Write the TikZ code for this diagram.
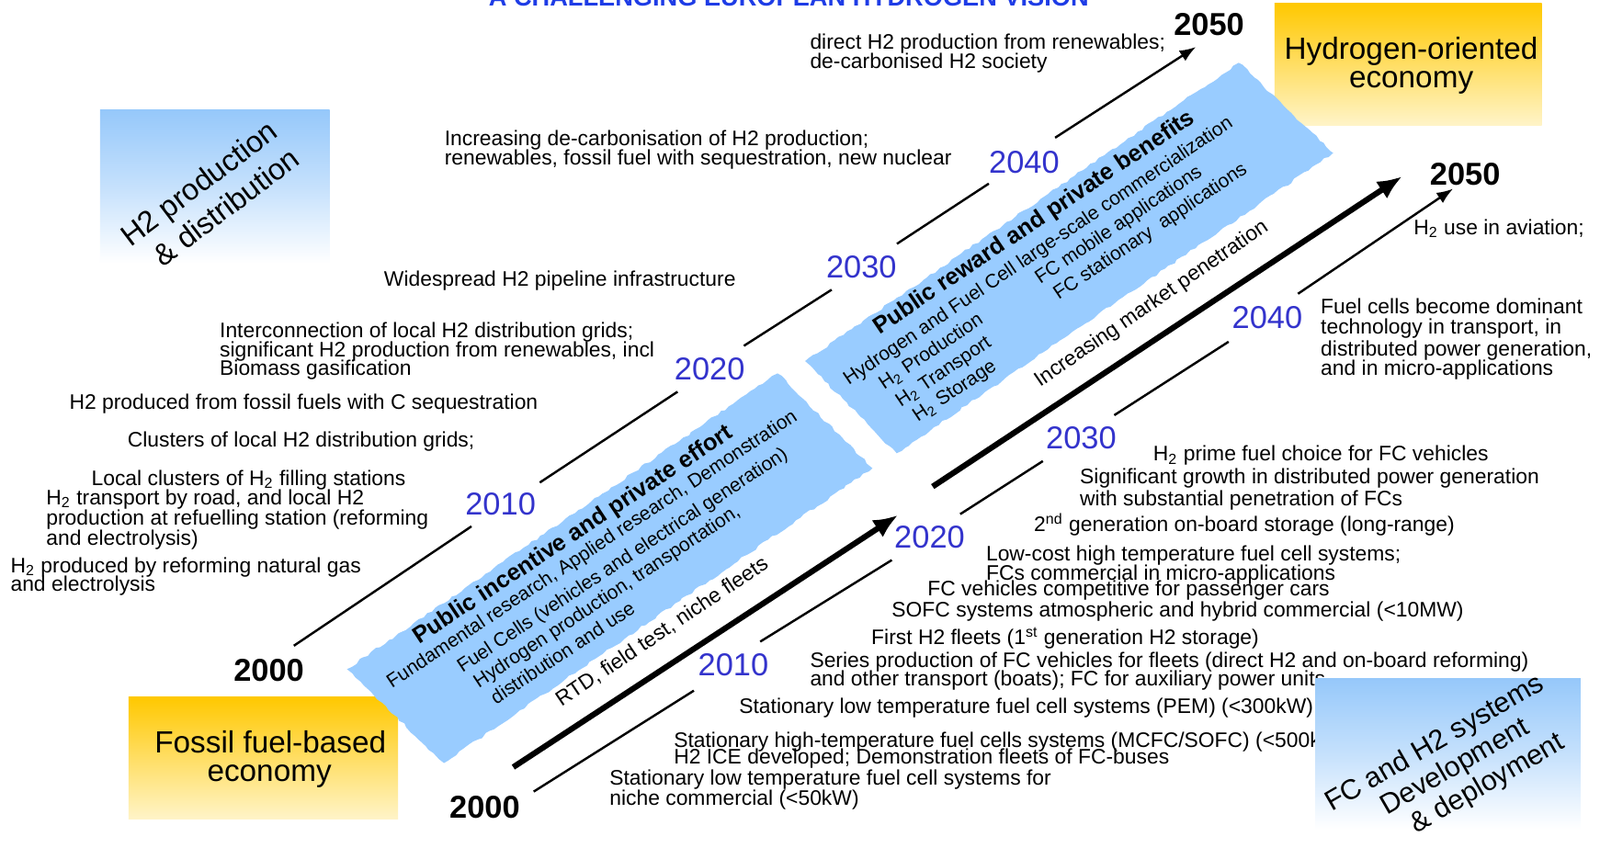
\documentclass[tikz,border=0pt]{standalone}
\usepackage{fontspec}
\setmainfont{Liberation Sans}
\usetikzlibrary{arrows.meta,decorations.pathmorphing}
\definecolor{bandblue}{RGB}{153,204,255}
\definecolor{yearblue}{RGB}{51,51,204}
\definecolor{titleblue}{RGB}{30,60,230}
\definecolor{boxyellow}{RGB}{255,200,0}
\definecolor{paleyellow}{RGB}{255,244,200}
\definecolor{boxblue}{RGB}{150,200,250}
\newcommand\ftxt{\fontsize{10.3}{10.5}\selectfont}
\newcommand\fbnd{\fontsize{9.5}{10}\selectfont}
\newcommand\fbndb{\fontsize{11.5}{12}\selectfont\bfseries}
\newcommand\fyr{\fontsize{15.5}{16}\selectfont}
\newcommand\fbig{\fontsize{15}{16}\selectfont}
\newcommand\fttl{\fontsize{12.25}{13}\selectfont\bfseries}
\begin{document}
\begin{tikzpicture}[x=0.5pt,y=-0.5pt,
  txt/.style={font=\ftxt, inner sep=0pt, anchor=base west},
  bt/.style={font=\fbnd, inner sep=0pt, anchor=base west, rotate=33.5},
  btt/.style={font=\fbnd, inner sep=0pt, anchor=base west, rotate=34},
  yr/.style={font=\fyr, text=yearblue, inner sep=0pt, anchor=base},
  yrb/.style={font=\fyr\bfseries, inner sep=0pt, anchor=base},
  boxt/.style={font=\fbig, inner sep=0pt, anchor=base},
  band/.style={fill=bandblue, decorate, decoration={random steps,segment length=2.5pt,amplitude=0.6pt}},
  thinline/.style={line width=1.1pt},
  thinarrow/.style={line width=1.1pt, -{Latex[length=8pt,width=6pt]}},
  thickarrow/.style={line width=2.8pt, -{Latex[length=12pt,width=10pt]}}]
\clip (0,0) rectangle (1568,831);
\useasboundingbox (0,0) rectangle (1568,831);
\fill[white] (0,0) rectangle (1568,831);

% title (cut off at top)
\node[anchor=base, font=\fttl, text=titleblue, inner sep=0pt] (title) at (773,6) {A CHALLENGING EUROPEAN HYDROGEN VISION};

% gradient boxes
\shade[top color=boxblue, bottom color=white, middle color=boxblue!55] (98,108) rectangle (323,258);
\shade[top color=boxyellow, bottom color=paleyellow] (1249,3) rectangle (1511,123);
\shade[top color=boxyellow, bottom color=paleyellow] (126,683) rectangle (390,803);

\node[boxt, rotate=37] (boxa1) at (201,188) {\fontsize{14.7}{15}\selectfont H2 production};
\node[boxt, rotate=37] (boxa2) at (228,211) {\fontsize{14.7}{15}\selectfont \& distribution};
\node[boxt] (boxb1) at (1383,58.5) {Hydrogen-oriented};
\node[boxt] (boxb2) at (1383,85.6) {economy};
\node[boxt] (boxc1) at (265,738.5) {Fossil fuel-based};
\node[boxt] (boxc2) at (264,765.6) {economy};

% blue bands
\path[band] (340,656) -- (762,366) -- (855,459) -- (435,748) -- cycle;
\path[band] (789,354) -- (1214,61.5) -- (1306.5,150) -- (878.7,444.3) -- cycle;

% band texts
\node[bt, font=\fbndb] (b1t) at (411,632) {Public incentive and private effort};
\node[bt] (b1a) at (384,675) {Fundamental research, Applied research, Demonstration};
\node[bt] (b1b) at (453,660) {Fuel Cells (vehicles and electrical generation)};
\node[bt] (b1c) at (469,675) {Hydrogen production, transportation,};
\node[bt] (b1d) at (486,691) {distribution and use};

\node[btt, font=\fbndb] (b2t) at (861.6,328.7) {Public reward and private benefits};
\node[btt] (b2a) at (831.6,378.3) {Hydrogen and Fuel Cell large-scale commercialization};
\node[btt] (b2b) at (866.1,382.8) {H\textsubscript{2} Production};
\node[btt] (b2c) at (1019.3,279.2) {FC mobile applications};
\node[btt] (b2d) at (882.6,399.3) {H\textsubscript{2} Transport};
\node[btt] (b2e) at (1037.3,294.2) {FC stationary\ \ applications};
\node[btt] (b2f) at (899.2,414.3) {H\textsubscript{2} Storage};

\node[txt, rotate=34] (rtd) at (550,693.5) {RTD, field test, niche fleets};
\node[txt, rotate=34.5] (imp) at (1019,380) {Increasing market penetration};

% year labels
\node[yrb] (u2000) at (263.5,668) {2000};
\node[yr] (u2010) at (490.5,504.4) {2010};
\node[yr] (u2020) at (695.5,372.3) {2020};
\node[yr] (u2030) at (844.2,272.6) {2030};
\node[yr] (u2040) at (1003.7,169.6) {2040};
\node[yrb] (u2050) at (1184.8,34.5) {2050};
\node[yrb] (l2000) at (475,801.6) {2000};
\node[yr] (l2010) at (718.7,662) {2010};
\node[yr] (l2020) at (911,537.4) {2020};
\node[yr] (l2030) at (1059.5,439.8) {2030};
\node[yr] (l2040) at (1241.9,321.8) {2040};
\node[yrb] (l2050) at (1435.8,181.6) {2050};

% timeline coordinates
\coordinate (ua1) at (288,633); \coordinate (ua2) at (462,516);
\coordinate (ub1) at (529,473); \coordinate (ub2) at (664,384);
\coordinate (uc1) at (729,339); \coordinate (uc2) at (815,284);
\coordinate (ud1) at (879,239); \coordinate (ud2) at (969,180);
\coordinate (ue1) at (1034,135); \coordinate (ue2) at (1172,46);
\coordinate (la1) at (523,776); \coordinate (la2) at (680,677);
\coordinate (lb1) at (745,629); \coordinate (lb2) at (874,549);
\coordinate (lc1) at (941,504); \coordinate (lc2) at (1022,452);
\coordinate (ld1) at (1092,407); \coordinate (ld2) at (1204,335);
\coordinate (le1) at (1272,288); \coordinate (le2) at (1424,185);
\coordinate (ta1) at (503,752); \coordinate (ta2) at (880,505);
\coordinate (tb1) at (914,477); \coordinate (tb2) at (1374,173);

\draw[thinline] (ua1) -- (ua2);
\draw[thinline] (ub1) -- (ub2);
\draw[thinline] (uc1) -- (uc2);
\draw[thinline] (ud1) -- (ud2);
\draw[thinarrow] (ue1) -- (ue2);
\draw[thinline] (la1) -- (la2);
\draw[thinline] (lb1) -- (lb2);
\draw[thinline] (lc1) -- (lc2);
\draw[thinline] (ld1) -- (ld2);
\draw[thinarrow] (le1) -- (le2);
\draw[thickarrow] (ta1) -- (ta2);
\draw[thickarrow] (tb1) -- (tb2);

% upper-left texts
\node[txt] (p1) at (793.5,48) {direct H2 production from renewables;};
\node[txt] (p2) at (793.5,67.5) {de-carbonised H2 society};
\node[txt] (p3) at (435.3,142.6) {Increasing de-carbonisation of H2 production;};
\node[txt] (p4) at (435.3,162.1) {renewables, fossil fuel with sequestration, new nuclear};
\node[txt] (p5) at (376,280.7) {Widespread H2 pipeline infrastructure};
\node[txt] (p6) at (215,330.8) {Interconnection of local H2 distribution grids;};
\node[txt] (p7) at (215,349.8) {significant H2 production from renewables, incl};
\node[txt] (p8) at (215,367.8) {Biomass gasification};
\node[txt] (p9) at (67.6,400.8) {H2 produced from fossil fuels with C sequestration};
\node[txt] (p10) at (124.6,438.3) {Clusters of local H2 distribution grids;};
\node[txt] (p11) at (89.3,475.9) {Local clusters of H\textsubscript{2} filling stations};
\node[txt] (p12) at (45,494.8) {H\textsubscript{2} transport by road, and local H2};
\node[txt] (p13) at (45,514.9) {production at refuelling station (reforming};
\node[txt] (p14) at (45,534.4) {and electrolysis)};
\node[txt] (p15) at (10,561.4) {H\textsubscript{2} produced by reforming natural gas};
\node[txt] (p16) at (10,579.4) {and electrolysis};

% right / lower texts
\node[txt] (q1) at (1385,229.7) {H\textsubscript{2} use in aviation;};
\node[txt] (q2) at (1294,307.7) {Fuel cells become dominant};
\node[txt] (q3) at (1294,327.2) {technology in transport, in};
\node[txt] (q4) at (1294,348.8) {distributed power generation,};
\node[txt] (q5) at (1294,367.7) {and in micro-applications};
\node[txt] (q6) at (1129.8,451.8) {H\textsubscript{2} prime fuel choice for FC vehicles};
\node[txt] (q7) at (1058,474.3) {Significant growth in distributed power generation};
\node[txt] (q8) at (1058,495.4) {with substantial penetration of FCs};
\node[txt] (q9) at (1013,520.9) {2\textsuperscript{nd} generation on-board storage (long-range)};
\node[txt] (q10) at (966,549.4) {Low-cost high temperature fuel cell systems;};
\node[txt] (q11) at (966,568.9) {FCs commercial in micro-applications};
\node[txt] (q12) at (908.7,583.9) {FC vehicles competitive for passenger cars};
\node[txt] (q13) at (873.6,605) {SOFC systems atmospheric and hybrid commercial (<10MW)};
\node[txt] (q14) at (853.6,632) {First H2 fleets (1\textsuperscript{st} generation H2 storage)};
\node[txt] (q15) at (793.5,654.5) {Series production of FC vehicles for fleets (direct H2 and on-board reforming)};
\node[txt] (q16) at (793.5,672.5) {and other transport (boats); FC for auxiliary power units};
\node[txt] (q17) at (724,699.5) {Stationary low temperature fuel cell systems (PEM) (<300kW)};
\node[txt] (q18) at (660,732.5) {Stationary high-temperature fuel cells systems (MCFC/SOFC) (<500kW)};
\node[txt] (q19) at (660,749) {H2 ICE developed; Demonstration fleets of FC-buses};
\node[txt] (q20) at (597,770) {Stationary low temperature fuel cell systems for};
\node[txt] (q21) at (597,789.6) {niche commercial (<50kW)};

% box D (drawn over text)
\shade[top color=boxblue, bottom color=white, middle color=boxblue!55] (1289,665) rectangle (1549,813);
\node[boxt, rotate=30] (boxd1) at (1410,735.5) {\fontsize{13.8}{14}\selectfont FC and H2 systems};
\node[boxt, rotate=30] (boxd2) at (1430,758.5) {\fontsize{13.8}{14}\selectfont Development};
\node[boxt, rotate=30] (boxd3) at (1461.7,775) {\fontsize{13.8}{14}\selectfont \& deployment};
\end{tikzpicture}
\end{document}
